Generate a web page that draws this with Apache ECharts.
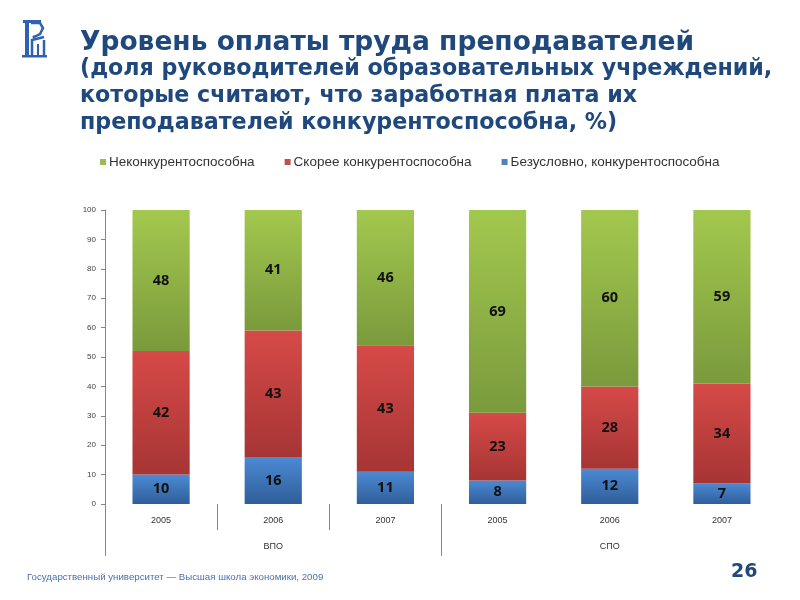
<!DOCTYPE html>
<html>
<head>
<meta charset="utf-8">
<script src="https://cdn.jsdelivr.net/npm/echarts@6/dist/echarts.min.js"></script>
<style>html,body{margin:0;padding:0;background:#fff}#c{width:800px;height:600px}</style>
</head>
<body>
<div id="c"></div>
<script>
var years = ['2005', '2006', '2007', '2005', '2006', '2007'];
var groups = ['ВПО', 'СПО'];
var seriesNames = ['Неконкурентоспособна', 'Скорее конкурентоспособна', 'Безусловно, конкурентоспособна'];
var nonCompetitive = [48, 41, 46, 69, 60, 59];
var ratherCompetitive = [42, 43, 43, 23, 28, 34];
var definitelyCompetitive = [10, 16, 11, 8, 12, 7];
var yTicks = { min: 0, max: 100, interval: 10 };

function grad(top, bottom) {
  return { type: 'linear', x: 0, y: 0, x2: 0, y2: 1,
    colorStops: [{ offset: 0, color: top }, { offset: 1, color: bottom }] };
}
var labelStyle = { show: true, position: 'inside', fontSize: 14.5, fontWeight: 'bold',
  color: '#111', fontFamily: 'Noto Sans' };

var chart = echarts.init(document.getElementById('c'));
chart.setOption({
  backgroundColor: '#fff',
  animation: false,
  title: {
    text: 'Уровень оплаты труда преподавателей',
    subtext: '(доля руководителей образовательных учреждений,\nкоторые считают, что заработная плата их\nпреподавателей конкурентоспособна, %)',
    left: 75, top: 25, itemGap: -1,
    textStyle: { fontFamily: 'DejaVu Sans', fontWeight: 'bold', fontSize: 26.5, lineHeight: 27, color: '#1F497D' },
    subtextStyle: { fontFamily: 'DejaVu Sans', fontWeight: 'bold', fontSize: 22.2, lineHeight: 27, color: '#1F497D' }
  },
  legend: {
    data: seriesNames,
    top: 150, left: 95,
    icon: 'rect', itemWidth: 6, itemHeight: 6, itemGap: 30,
    textStyle: { fontFamily: 'Liberation Sans', fontSize: 13.5, color: '#333', padding: [0, 0, 0, -2] }
  },
  grid: { left: 105, right: 22, top: 210, bottom: 96 },
  xAxis: [
    { type: 'category', data: years, position: 'bottom',
      axisLine: { show: false }, axisTick: { show: false },
      axisLabel: { margin: 12, fontSize: 9, color: '#333', fontFamily: 'Liberation Sans' } },
    { type: 'category', data: groups, position: 'bottom', offset: 0,
      axisLine: { show: false }, axisTick: { show: false },
      axisLabel: { margin: 38, fontSize: 9, color: '#333', fontFamily: 'Liberation Sans' } }
  ],
  yAxis: {
    type: 'value', min: yTicks.min, max: yTicks.max, interval: yTicks.interval,
    axisLine: { show: true, lineStyle: { color: '#868686' } },
    axisTick: { show: true, length: 4, lineStyle: { color: '#868686' } },
    axisLabel: { fontSize: 8, color: '#404040', margin: 9, fontFamily: 'Liberation Sans' },
    splitLine: { show: false }
  },
  series: [
    { name: seriesNames[2], type: 'bar', stack: 'a', data: definitelyCompetitive, barWidth: '51%',
      itemStyle: { color: grad('#4C8AD4', '#2F5E99') }, label: labelStyle },
    { name: seriesNames[1], type: 'bar', stack: 'a', data: ratherCompetitive,
      itemStyle: { color: grad('#D64A48', '#A63534') }, label: labelStyle },
    { name: seriesNames[0], type: 'bar', stack: 'a', data: nonCompetitive,
      itemStyle: { color: grad('#A3C84E', '#7A9A3C') }, label: labelStyle }
  ],
  color: ['#4C8AD4', '#D64A48', '#A3C84E']
});
chart.setOption({ legend: { data: [
  { name: seriesNames[0], itemStyle: { color: '#9BBB59' } },
  { name: seriesNames[1], itemStyle: { color: '#C0504D' } },
  { name: seriesNames[2], itemStyle: { color: '#4F81BD' } } ] } });

// separators computed from the library's scales
var c0 = chart.convertToPixel({ xAxisIndex: 0 }, 0);
var c1 = chart.convertToPixel({ xAxisIndex: 0 }, 1);
var bw = c1 - c0;
var y0 = chart.convertToPixel({ yAxisIndex: 0 }, 0);
var seps = [[0, 52], [1, 26], [2, 26], [3, 52]];
var g = seps.map(function (s) {
  var x = Math.round(chart.convertToPixel({ xAxisIndex: 0 }, s[0]) - bw / 2) + 0.5;
  return { type: 'line', shape: { x1: x, y1: y0, x2: x, y2: y0 + s[1] },
    style: { stroke: '#868686', lineWidth: 1 } };
});
// logo
var logoColor = '#2E62B0';
g.push(
  { type: 'rect', shape: { x: 23, y: 20, width: 18, height: 3 }, style: { fill: logoColor } },
  { type: 'rect', shape: { x: 25, y: 22, width: 4, height: 34 }, style: { fill: logoColor } },
  { type: 'polyline', shape: { points: [[31, 23], [40, 23], [43, 28], [40, 34], [34, 37], [33, 36]] },
    style: { stroke: logoColor, lineWidth: 2.5, fill: null } },
  { type: 'polyline', shape: { points: [[32, 56], [32, 40], [44, 37]] },
    style: { stroke: logoColor, lineWidth: 2.5, fill: null } },
  { type: 'polyline', shape: { points: [[38, 55], [38, 44]] },
    style: { stroke: logoColor, lineWidth: 2, fill: null } },
  { type: 'polyline', shape: { points: [[44, 56], [44, 40]] },
    style: { stroke: logoColor, lineWidth: 2.5, fill: null } },
  { type: 'rect', shape: { x: 22, y: 55, width: 25, height: 2.5 }, style: { fill: logoColor } }
);
// footer
g.push(
  { type: 'text', x: 27, y: 572, style: { text: 'Государственный университет — Высшая школа экономики, 2009',
    fontFamily: 'Liberation Sans', fontSize: 9.7, fill: '#4A6FB0' } },
  { type: 'text', x: 731, y: 563, style: { text: '26', fontFamily: 'DejaVu Sans', fontWeight: 'bold',
    fontSize: 19, fill: '#1F497D' } }
);
chart.setOption({ graphic: g });
</script>
</body>
</html>
